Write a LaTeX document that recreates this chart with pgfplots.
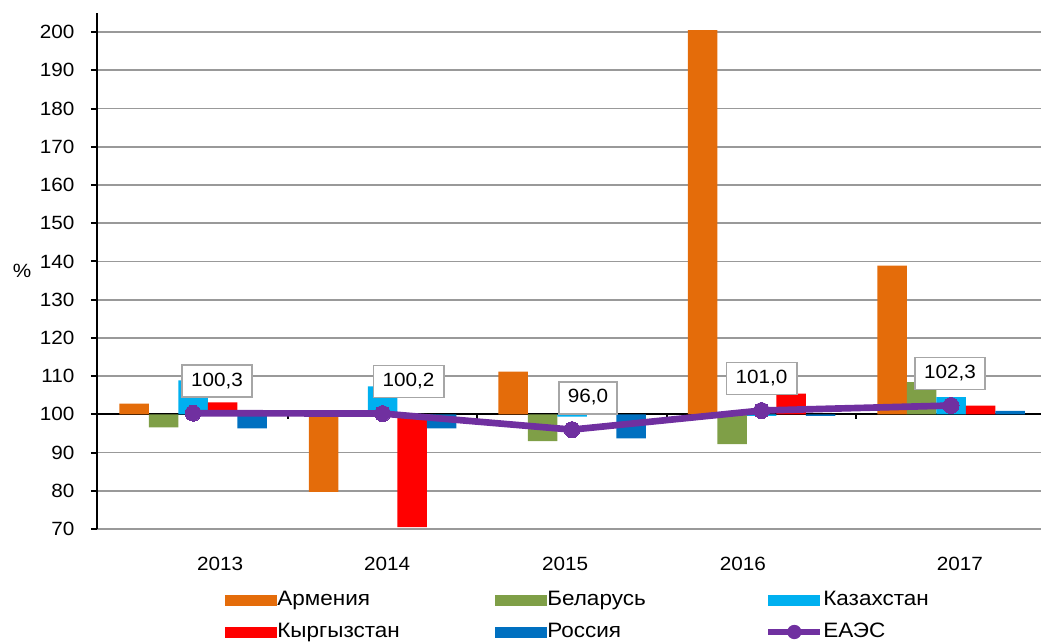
\documentclass[border=0pt]{standalone}
\usepackage{fontspec}
\setmainfont{Liberation Sans}[FakeStretch=1.08]
\usepackage{pgfplots}
\usepackage{pgfplotstable}
\pgfplotsset{compat=1.18}
\definecolor{armC}{HTML}{E46C0A}
\definecolor{belC}{HTML}{7F9F47}
\definecolor{kazC}{HTML}{00B0F0}
\definecolor{kgzC}{HTML}{FF0000}
\definecolor{rusC}{HTML}{0070C0}
\definecolor{eaeuC}{HTML}{7030A0}

\pgfplotstableread{
x arm bel kaz kgz rus
0 102.8 96.6 108.9 103.1 96.3
1 79.7 99.8 107.3 70.5 96.3
2 111.2 93.0 99.4 100.9 93.7
3 200.5 92.2 99.6 105.4 99.6
4 138.9 108.4 104.5 102.3 100.9
}\bardata

\pgfplotstableread{
x y lab dx
0 100.3 100,3 14.4
1 100.2 100,2 15.6
2 96.0 96,0 9.6
3 101.0 101,0 0
4 102.3 102,3 -0.6
}\linedata

\begin{document}
\begin{tikzpicture}[font=\fontsize{11.5}{14}\selectfont]
\begin{axis}[
  scale only axis, width=566.4pt, height=309.6pt,
  xmin=-0.507, xmax=4.475, ymin=-30, ymax=105,
  axis x line*=bottom, axis y line*=left,
  x axis line style={draw=none},
  y axis line style={black, line width=1.2pt, -},
  xtick={0.143,1.024,1.963,2.902,4.047},
  xticklabels={2013,2014,2015,2016,2017},
  x tick style={draw=none},
  xticklabel style={yshift=-10pt},
  ytick={-30,-20,...,100},
  yticklabel={\pgfmathparse{int(round(\tick+100))}\pgfmathresult},
  y tick style={black, line width=1.2pt},
  tick align=outside, major tick length=3.6pt,
  yticklabel style={xshift=-6.4pt},
  ymajorgrids, major grid style={draw=gray!80, line width=1.1pt},
  ylabel={\%}, ylabel style={rotate=-90, at={(axis description cs:-0.0794,0.5)}, anchor=center},
  legend columns=3,
  legend style={draw=none, fill=none, at={(axis description cs:0.1356,-0.1686)}, anchor=west,
    inner sep=0pt, row sep=7.2pt, font=\fontsize{12.5}{14}\selectfont,
    /tikz/every even column/.append style={column sep=3pt},
    nodes={inner sep=0pt, text height=9pt, text depth=3pt}},
]
\draw[black, line width=1.2pt] (axis cs:-0.507,0) -- (axis cs:4.475,0);
\pgfplotsinvokeforeach{0.5,1.5,2.5,3.5}{\draw[black, line width=1pt] (axis cs:#1,0) -- ++(0pt,-3pt);}

\addplot[ybar, bar width=17.7pt, bar shift=-35.4pt, fill=armC, draw=none,
  legend image code/.code={\fill[armC] (0pt,-3.3pt) rectangle (31.2pt,3.3pt);}]
  table[x=x, y expr=\thisrow{arm}-100]{\bardata};
\addlegendentry{\makebox[127.8pt][l]{Армения}}
\addplot[ybar, bar width=17.7pt, bar shift=-17.7pt, fill=belC, draw=none,
  legend image code/.code={\fill[belC] (0pt,-3.3pt) rectangle (31.2pt,3.3pt);}]
  table[x=x, y expr=\thisrow{bel}-100]{\bardata};
\addlegendentry{\makebox[127.8pt][l]{Беларусь}}
\addplot[ybar, bar width=17.7pt, bar shift=0pt, fill=kazC, draw=none,
  legend image code/.code={\fill[kazC] (0pt,-3.3pt) rectangle (31.2pt,3.3pt);}]
  table[x=x, y expr=\thisrow{kaz}-100]{\bardata};
\addlegendentry{\makebox[127.8pt][l]{Казахстан}}
\addplot[ybar, bar width=17.7pt, bar shift=17.7pt, fill=kgzC, draw=none,
  legend image code/.code={\fill[kgzC] (0pt,-3.3pt) rectangle (31.2pt,3.3pt);}]
  table[x=x, y expr=\thisrow{kgz}-100]{\bardata};
\addlegendentry{\makebox[127.8pt][l]{Кыргызстан}}
\addplot[ybar, bar width=17.7pt, bar shift=35.4pt, fill=rusC, draw=none,
  legend image code/.code={\fill[rusC] (0pt,-3.3pt) rectangle (31.2pt,3.3pt);}]
  table[x=x, y expr=\thisrow{rus}-100]{\bardata};
\addlegendentry{\makebox[127.8pt][l]{Россия}}

\addplot[color=eaeuC, line width=4pt, mark=*, mark size=4.8pt,
  mark options={fill=eaeuC, draw=eaeuC, line width=0pt},
  point meta=explicit symbolic, nodes near coords,
  visualization depends on={\thisrow{dx} \as \dx},
  every node near coord/.append style={anchor=center, xshift=\dx pt, yshift=19.2pt,
    draw=gray!70, line width=1.1pt, fill=white, text=black,
    inner xsep=5.5pt, inner ysep=4.5pt, text height=8.3pt, text depth=1.9pt},
  legend image code/.code={\draw[eaeuC, line width=3.6pt] (0pt,0pt) -- (31.2pt,0pt); \path[fill=eaeuC, draw=none] (15.6pt,0pt) circle[radius=4.3pt];}]
  table[x=x, y expr=\thisrow{y}-100, meta=lab]{\linedata};
\addlegendentry{\makebox[127.8pt][l]{ЕАЭС}}
\end{axis}
\pgfresetboundingbox
\path[use as bounding box] ([shift={(-58.2pt,-68.4pt)}]current axis.south west) rectangle ([shift={(0pt,7.8pt)}]current axis.north east);
\end{tikzpicture}
\end{document}
